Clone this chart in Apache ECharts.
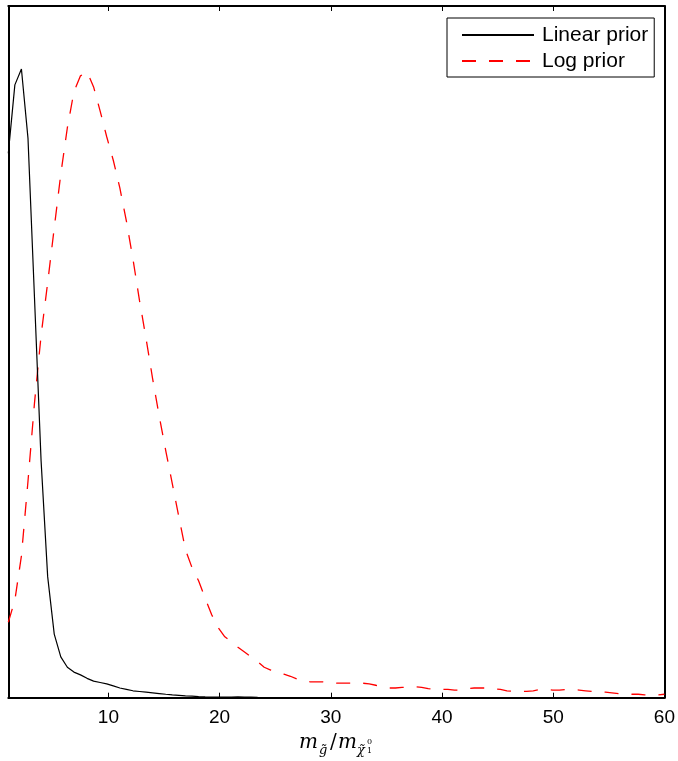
<!DOCTYPE html>
<html>
<head>
<meta charset="utf-8">
<script src="https://cdn.jsdelivr.net/npm/echarts@6/dist/echarts.min.js"></script>
<style>
html,body{margin:0;padding:0;background:#fff;}
#chart{width:678px;height:761px;}
</style>
</head>
<body>
<div id="chart"></div>
<script>
// x grid (mass ratio)
const xValues = [1.00,1.59,2.18,2.77,3.36,3.95,4.54,5.13,5.72,6.31,6.90,7.49,8.08,8.67,9.26,9.85,10.44,11.03,11.62,12.21,12.80,13.39,13.98,14.57,15.16,15.75,16.34,16.93,17.52,18.11,18.70,19.29,19.88,20.47,21.06,21.65,22.24,22.83,23.42,24.01,24.60,25.19,25.78,26.37,26.96,27.55,28.14,28.73,29.32,29.91,30.50,31.09,31.68,32.27,32.86,33.45,34.04,34.63,35.22,35.81,36.40,36.99,37.58,38.17,38.76,39.35,39.94,40.53,41.12,41.71,42.30,42.89,43.48,44.07,44.66,45.25,45.84,46.43,47.02,47.61,48.20,48.79,49.38,49.97,50.56,51.15,51.74,52.33,52.92,53.51,54.10,54.69,55.28,55.87,56.46,57.05,57.64,58.23,58.82,59.41,60.00];

const linearPrior = [0.787,0.886,0.909,0.809,0.576,0.342,0.175,0.092,0.059,0.044,0.037,0.033,0.028,0.024,0.022,0.020,0.017,0.014,0.012,0.010,0.009,0.008,0.007,0.006,0.005,0.0042,0.0035,0.0027,0.0022,0.0016,0.0012,0.0009,0.0007,0.0007,0.0010,0.0012,0.0010,0.0007,0.0004,0.0003,0.0002,0.0002,0.0002,0.0002,0.0002,0.0002,0.0002,0.0002,0.0002,0.0002,0.0002,0.0002,0.0002,0.0002,0.0002,0.0002,0.0002,0.0002,0.0002,0.0002,0.0002,0.0002,0.0002,0.0002,0.0002,0.0002,0.0002,0.0002,0.0002,0.0002,0.0002,0.0002,0.0002,0.0002,0.0002,0.0002,0.0002,0.0002,0.0002,0.0002,0.0002,0.0002,0.0002,0.0002,0.0002,0.0002,0.0002,0.0002,0.0002,0.0002,0.0002,0.0002,0.0002,0.0002,0.0002,0.0002,0.0002,0.0002,0.0002,0.0002,0.0002];

const logPrior = [0.109,0.141,0.205,0.313,0.427,0.524,0.600,0.679,0.757,0.824,0.876,0.899,0.905,0.883,0.848,0.811,0.777,0.737,0.689,0.634,0.574,0.519,0.461,0.407,0.357,0.309,0.261,0.214,0.188,0.169,0.144,0.120,0.101,0.088,0.081,0.073,0.066,0.059,0.052,0.044,0.040,0.037,0.034,0.031,0.027,0.024,0.023,0.023,0.023,0.022,0.021,0.021,0.021,0.021,0.021,0.020,0.018,0.016,0.014,0.014,0.015,0.015,0.016,0.015,0.013,0.012,0.012,0.012,0.011,0.011,0.013,0.014,0.014,0.014,0.013,0.012,0.010,0.009,0.009,0.009,0.010,0.012,0.012,0.011,0.011,0.012,0.012,0.011,0.010,0.009,0.008,0.008,0.007,0.006,0.006,0.005,0.005,0.004,0.004,0.004,0.005];

const xTicks = [10,20,30,40,50,60];
const seriesNames = ['Linear prior','Log prior'];

function pairs(ys){ return xValues.map((x,i)=>[x, ys[i]]); }

const chart = echarts.init(document.getElementById('chart'), null, {renderer:'canvas'});
const axisLineStyle = {color:'#000', width:2};

function txt(s, x, y, font){
  return {type:'text', x:x, y:y, silent:true, z:100,
    style:{text:s, font:font, fill:'#000', verticalAlign:'middle', align:'left'}};
}

chart.setOption({
  backgroundColor:'#fff',
  animation:false,
  grid:{left:8.3, top:6, width:657.4, height:691.7, containLabel:false},
  legend:{
    orient:'vertical', left:447, top:18,
    data:seriesNames,
    backgroundColor:'#fff', borderColor:'#000', borderWidth:1,
    padding:[6,6,5,14],
    itemWidth:72, itemHeight:22, itemGap:4,
    itemStyle:{opacity:0},
    textStyle:{fontFamily:'Liberation Sans', fontSize:21, color:'#000', lineHeight:22, padding:[0,0,0,3]}
  },
  xAxis:[
    {type:'value', min:1, max:60, position:'bottom',
     axisLine:{show:true, onZero:false, lineStyle:axisLineStyle},
     axisTick:{show:true, inside:true, length:5, customValues:xTicks, lineStyle:{color:'#000', width:1}},
     axisLabel:{show:true, customValues:xTicks, fontFamily:'Liberation Sans', fontSize:19, color:'#000', margin:11},
     splitLine:{show:false}},
    {type:'value', min:1, max:60, position:'top',
     axisLine:{show:true, onZero:false, lineStyle:axisLineStyle},
     axisTick:{show:true, inside:true, length:5, customValues:xTicks, lineStyle:{color:'#000', width:1}},
     axisLabel:{show:false},
     splitLine:{show:false}}
  ],
  yAxis:[
    {type:'value', min:0, max:1, position:'left',
     axisLine:{show:true, onZero:false, lineStyle:axisLineStyle},
     axisTick:{show:false}, axisLabel:{show:false}, splitLine:{show:false}},
    {type:'value', min:0, max:1, position:'right',
     axisLine:{show:true, onZero:false, lineStyle:axisLineStyle},
     axisTick:{show:false}, axisLabel:{show:false}, splitLine:{show:false}}
  ],
  series:[
    {name:seriesNames[0], type:'line', data:pairs(linearPrior), symbol:'none',
     lineStyle:{color:'#000', width:1.2}, itemStyle:{color:'#000'}, z:3},
    {name:seriesNames[1], type:'line', data:pairs(logPrior), symbol:'none',
     lineStyle:{color:'#ff0000', width:1.3, type:[14,13]}, itemStyle:{color:'#ff0000'}, z:2}
  ],
  graphic:[
    txt('m', 299, 743, 'italic 20px "DejaVu Serif"'),
    txt('g\u0303', 319, 750.5, 'italic 13px "DejaVu Serif"'),
    txt('/', 330, 743, '20px "DejaVu Serif"'),
    txt('m', 338, 743, 'italic 20px "DejaVu Serif"'),
    txt('\u03c7\u0303', 357, 750.5, 'italic 13px "DejaVu Serif"'),
    txt('0', 367, 741.5, '8px "DejaVu Serif"'),
    txt('1', 367, 751, '8px "DejaVu Serif"')
  ]
});
</script>
</body>
</html>
